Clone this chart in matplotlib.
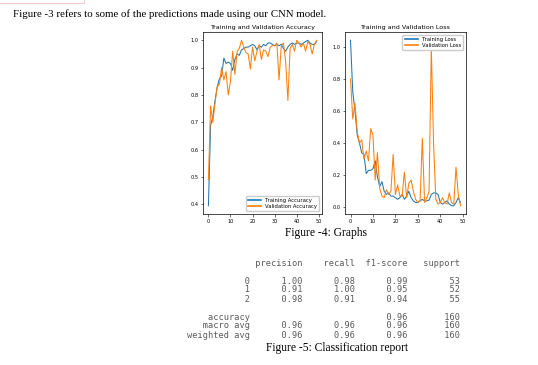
import numpy as np
import matplotlib
matplotlib.use("Agg")
import matplotlib.pyplot as plt
from matplotlib.ticker import MultipleLocator
from matplotlib.patches import Rectangle

W, H = 538, 365

# training history (50 epochs)
train_acc = [0.395, 0.69, 0.72, 0.78, 0.83, 0.86, 0.87, 0.935, 0.915, 0.92,
             0.915, 0.89, 0.93, 0.95, 0.945, 0.965, 0.97, 0.975, 0.975, 0.98,
             0.985, 0.98, 0.965, 0.98, 0.975, 0.985, 0.98, 0.99, 0.99, 0.985,
             0.98, 0.985, 0.98, 0.985, 0.97, 0.96, 0.975, 0.985, 0.99, 0.985,
             0.99, 0.99, 0.985, 0.99, 0.995, 1.0, 0.99, 0.985, 0.985, 0.995]
val_acc = [0.49, 0.76, 0.70, 0.77, 0.83, 0.84, 0.90, 0.855, 0.885, 0.80,
           0.85, 0.96, 0.875, 0.96, 0.97, 1.0, 0.975, 0.955, 0.95, 0.895,
           0.975, 0.925, 0.96, 0.985, 0.93, 0.965, 0.96, 0.94, 0.975, 0.98,
           0.98, 0.99, 0.855, 0.98, 0.99, 0.92, 0.78, 0.97, 0.985, 0.96,
           1.0, 0.99, 0.975, 0.99, 0.96, 0.995, 0.985, 0.95, 0.985, 1.0]
train_loss = [1.04, 0.72, 0.60, 0.45, 0.40, 0.34, 0.33, 0.21, 0.23, 0.23,
              0.24, 0.29, 0.19, 0.13, 0.16, 0.10, 0.08, 0.09, 0.07, 0.07,
              0.06, 0.05, 0.06, 0.08, 0.05, 0.07, 0.10, 0.06, 0.04, 0.03,
              0.03, 0.04, 0.05, 0.04, 0.04, 0.045, 0.08, 0.09, 0.09, 0.08,
              0.03, 0.02, 0.03, 0.04, 0.02, 0.01, 0.01, 0.03, 0.06, 0.03]
val_loss = [0.80, 0.55, 0.65, 0.47, 0.40, 0.42, 0.30, 0.35, 0.29, 0.49,
            0.45, 0.17, 0.34, 0.12, 0.07, 0.06, 0.11, 0.08, 0.10, 0.33,
            0.08, 0.14, 0.07, 0.07, 0.22, 0.06, 0.15, 0.17, 0.10, 0.05,
            0.03, 0.04, 0.43, 0.03, 0.06, 0.10, 1.00, 0.40, 0.05, 0.02,
            0.03, 0.06, 0.03, 0.02, 0.09, 0.03, 0.02, 0.25, 0.08, 0.01]

# classification report
classes = ["0", "1", "2"]
precision = [1.00, 0.91, 0.98]
recall = [0.98, 1.00, 0.91]
f1 = [0.99, 0.95, 0.94]
support = [53, 52, 55]
accuracy = 0.96
macro = [0.96, 0.96, 0.96]
weighted = [0.96, 0.96, 0.96]
total = 160

intro = "Figure -3 refers to some of the predictions made using our CNN model."
cap4 = "Figure -4: Graphs"
cap5 = "Figure -5: Classification report"

fig = plt.figure(figsize=(W / 100, H / 100), dpi=100)
fig.patch.set_facecolor("white")


def fx(x):
    return x / W


def fy(y):
    return 1 - y / H


def box(l, t, r, b):
    return [fx(l), fy(b), (r - l) / W, (b - t) / H]


# faint leftover frame at top left
fig.patches.append(Rectangle((fx(-2), fy(3)), fx(86), 6 / H, transform=fig.transFigure,
                             fill=False, edgecolor="#f3c9c9", lw=0.8))

fig.text(fx(13), fy(14), intro, family="Liberation Serif", fontsize=7.8,
         va="center", ha="left")

epochs = np.arange(len(train_acc))


def style(ax):
    ax.tick_params(labelsize=3.6, length=1.8, width=0.4, pad=1.5)
    for s in ax.spines.values():
        s.set_linewidth(0.5)
    ax.xaxis.set_major_locator(MultipleLocator(10))


def legend(ax, loc):
    lg = ax.legend(loc=loc, fontsize=3.8, handlelength=2.5, borderpad=0.4,
                   labelspacing=0.2, framealpha=1)
    for h in lg.get_lines():
        h.set_linewidth(1.2)


ax1 = fig.add_axes(box(203, 32, 322, 214))
ax1.plot(epochs, train_acc, color="#1f77b4", lw=0.75, label="Training Accuracy")
ax1.plot(epochs, val_acc, color="#ff7f0e", lw=0.75, label="Validation Accuracy")
ax1.yaxis.set_major_locator(MultipleLocator(0.1))
ax1.set_title("Training and Validation Accuracy", fontsize=4.6, pad=2)
legend(ax1, "lower right")
style(ax1)

ax2 = fig.add_axes(box(345, 32, 466, 214))
ax2.plot(epochs, train_loss, color="#1f77b4", lw=0.75, label="Training Loss")
ax2.plot(epochs, val_loss, color="#ff7f0e", lw=0.75, label="Validation Loss")
ax2.yaxis.set_major_locator(MultipleLocator(0.2))
ax2.set_title("Training and Validation Loss", fontsize=4.6, pad=2)
legend(ax2, "upper right")
style(ax2)

fig.text(fx(326), fy(233), cap4, family="Liberation Serif", fontsize=8.3,
         ha="center", va="center")

# report lines in sklearn's layout
lines = ["%12s %9s %9s %9s %9s" % ("", "precision", "recall", "f1-score", "support"), ""]
for c, p, r, f, s in zip(classes, precision, recall, f1, support):
    lines.append("%12s %9.2f %9.2f %9.2f %9d" % (c, p, r, f, s))
lines.append("")
lines.append("%12s %9s %9s %9.2f %9d" % ("accuracy", "", "", accuracy, total))
lines.append("%12s %9.2f %9.2f %9.2f %9d" % ("macro avg", macro[0], macro[1], macro[2], total))
lines.append("%12s %9.2f %9.2f %9.2f %9d" % ("weighted avg", weighted[0], weighted[1], weighted[2], total))

for i, ln in enumerate(lines):
    fig.text(fx(187), fy(263 + i * 9), ln, family="DejaVu Sans Mono", fontsize=6.2,
             color="#5a5a5a", ha="left", va="center")

fig.text(fx(337), fy(348), cap5, family="Liberation Serif", fontsize=8.3,
         ha="center", va="center")

fig.savefig("out.png", dpi=100)
